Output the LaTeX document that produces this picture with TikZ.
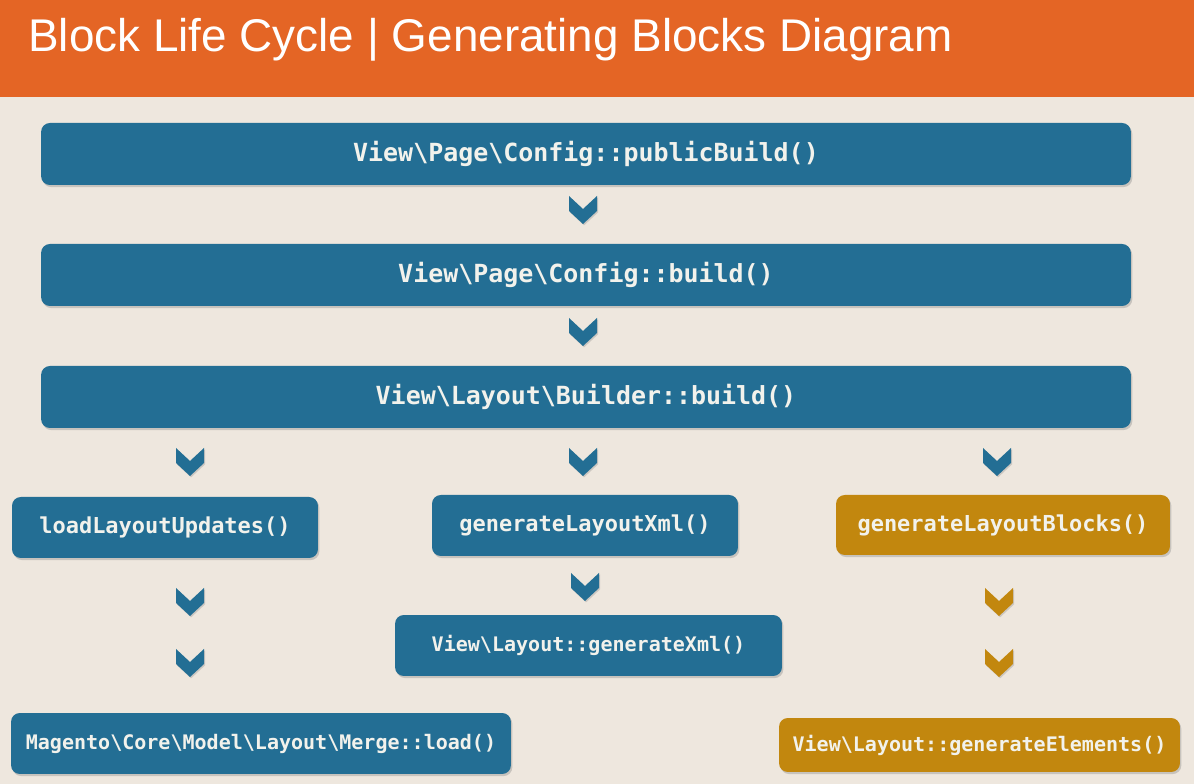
\documentclass[tikz,border=0pt]{standalone}
\usepackage{fontspec}
\setsansfont{Liberation Sans}
\setmonofont{DejaVu Sans Mono}
\usepackage{tikz}
\usetikzlibrary{positioning, calc, shadows}
\definecolor{headc}{RGB}{228,101,37}
\definecolor{paperc}{RGB}{238,231,222}
\definecolor{bluec}{RGB}{35,110,148}
\definecolor{goldc}{RGB}{194,135,14}
\definecolor{textc}{RGB}{242,242,236}

\tikzset{
  pics/chevron/.style={code={
    \fill[#1, drop shadow={opacity=0.3, shadow xshift=0.6pt, shadow yshift=-0.8pt}]
      (-14,14) -- (0,1) -- (14,14) -- (14,-1) -- (0,-14) -- (-14,-1) -- cycle;
  }}
}

\begin{document}
\begin{tikzpicture}[x=0.02cm, y=0.02cm,
  box/.style={fill=bluec, rounded corners=5pt, text=textc, font=\ttfamily,
    drop shadow={opacity=0.35, shadow xshift=0.8pt, shadow yshift=-1.2pt},
    inner sep=0pt},
  wide/.style={box, minimum width=21.8cm, minimum height=1.24cm,
    font=\ttfamily\bfseries\fontsize{14.2}{16}\selectfont},
  mid/.style={box, font=\ttfamily\bfseries\fontsize{12.5}{15}\selectfont},
  small/.style={box, font=\ttfamily\bfseries\fontsize{11.4}{14}\selectfont},
  gold/.style={fill=goldc}]
  \useasboundingbox (0,0) rectangle (1194,784);
  \fill[paperc] (0,0) rectangle (1194,784);
  % header
  \fill[headc] (0,687) rectangle (1194,784);
  \node[anchor=base west, inner sep=0pt, text=white,
    font=\sffamily\fontsize{26.1}{30}\selectfont] (title) at (28,732)
    {Block Life Cycle | Generating Blocks Diagram};

  % main column
  \node[wide] (pub) at (586,630) {View\textbackslash Page\textbackslash Config::publicBuild()};
  \node[wide] (bld) at (586,509) {View\textbackslash Page\textbackslash Config::build()};
  \node[wide] (lbuild) at (586,387) {View\textbackslash Layout\textbackslash Builder::build()};
  \pic at (583,574) {chevron=bluec};
  \pic at (583,452) {chevron=bluec};

  % three branches
  \node[mid, minimum width=6.12cm, minimum height=1.22cm] (load) at (165,256.5) {loadLayoutUpdates()};
  \node[mid, minimum width=6.12cm, minimum height=1.22cm] (genxml) at (585,258.5) {generateLayoutXml()};
  \node[mid, gold, minimum width=6.68cm, minimum height=1.2cm] (genblk) at (1003,259) {generateLayoutBlocks()};
  \foreach \x in {190,583,997} \pic at (\x,322) {chevron=bluec};

  \node[small, minimum width=7.74cm, minimum height=1.22cm] (layxml) at (588.5,138.5) {View\textbackslash Layout::generateXml()};
  \node[small, minimum width=10cm, minimum height=1.22cm] (merge) at (261,40.5) {Magento\textbackslash Core\textbackslash Model\textbackslash Layout\textbackslash Merge::load()};
  \node[small, gold, minimum width=8.02cm, minimum height=1.08cm] (genel) at (979.5,39) {View\textbackslash Layout::generateElements()};

  \pic at (585,197) {chevron=bluec};
  \foreach \y in {182,121} {
    \pic at (190,\y) {chevron=bluec};
    \pic at (999,\y) {chevron=goldc};
  }
\end{tikzpicture}
\end{document}
